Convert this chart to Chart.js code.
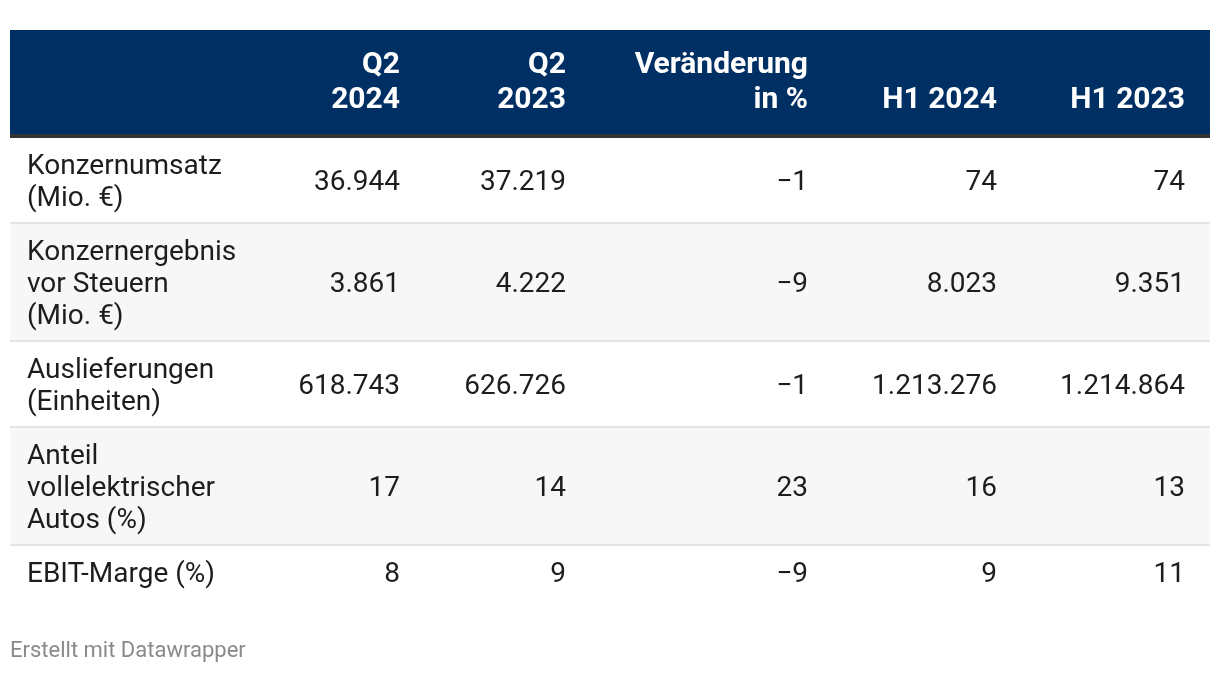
<!DOCTYPE html>
<html>
<head>
<meta charset="utf-8">
<script src="https://cdn.jsdelivr.net/npm/chart.js@4"></script>
<style>
  html, body { margin: 0; padding: 0; background: #fff; }
  #wrap { width: 1220px; height: 674px; position: relative; }
</style>
</head>
<body>
<div id="wrap"><canvas id="chart-table"></canvas></div>
<script>
// Table data (Q2 / H1 figures)
const rowLabels = [
    ['Konzernumsatz', '(Mio. €)'],
    ['Konzernergebnis', 'vor Steuern', '(Mio. €)'],
    ['Auslieferungen', '(Einheiten)'],
    ['Anteil', 'vollelektrischer', 'Autos (%)'],
    ['EBIT-Marge (%)']
];
const columnHeads = [['Q2', '2024'], ['Q2', '2023'], ['Veränderung', 'in %'], ['H1 2024'], ['H1 2023']];
const q2_2024 = [36944, 3861, 618743, 17, 8];
const q2_2023 = [37219, 4222, 626726, 14, 9];
const changePct = [-1, -9, -1, 23, -9];
const h1_2024 = [74, 8023, 1213276, 16, 9];
const h1_2023 = [74, 9351, 1214864, 13, 11];
const columnsData = [q2_2024, q2_2023, changePct, h1_2024, h1_2023];

// layout (pixel units of the hidden linear scales)
const colRight = [400, 566, 808, 997, 1185];
const tableLeft = 10, tableRight = 1210, labelLeft = 27;
const headTop = 30, headBottom = 134, headLine = 4;
const lineH = 32, rowPad = 20, sepH = 2;

const fmt = v => (v < 0 ? '\u2212' : '') + Math.abs(v).toLocaleString('de-DE');

const tablePlugin = {
    id: 'tableDraw',
    afterDraw(chart) {
        const c = chart.ctx, sx = chart.scales.x, sy = chart.scales.y;
        const X = v => sx.getPixelForValue(v), Y = v => sy.getPixelForValue(v);
        const W = X(tableRight) - X(tableLeft);
        c.save();
        // header band
        c.fillStyle = '#003063';
        c.fillRect(X(tableLeft), Y(headTop), W, Y(headBottom) - Y(headTop));
        c.fillStyle = '#333333';
        c.fillRect(X(tableLeft), Y(headBottom), W, headLine);
        c.fillStyle = '#ffffff';
        c.font = 'bold 30px Roboto';
        c.textAlign = 'right';
        c.textBaseline = 'alphabetic';
        columnHeads.forEach((lines, i) => {
            const lastBase = 108;
            lines.forEach((t, k) => {
                c.fillText(t, X(colRight[i]), Y(lastBase - (lines.length - 1 - k) * 35));
            });
        });
        // rows
        let top = headBottom + headLine;
        rowLabels.forEach((lines, r) => {
            const h = lines.length * lineH + rowPad;
            if (r % 2 === 1) {
                c.fillStyle = '#f7f7f7';
                c.fillRect(X(tableLeft), Y(top), W, h);
            }
            const mid = top + h / 2;
            c.fillStyle = '#1d1d1d';
            c.font = '28px Roboto';
            c.textAlign = 'left';
            lines.forEach((t, k) => {
                const cy = mid + (k - (lines.length - 1) / 2) * lineH;
                c.fillText(t, X(labelLeft), Y(cy + 10));
            });
            c.textAlign = 'right';
            columnsData.forEach((col, i) => {
                c.fillText(fmt(col[r]), X(colRight[i]), Y(mid + 10));
            });
            top += h;
            if (r < rowLabels.length - 1) {
                c.fillStyle = '#e5e5e5';
                c.fillRect(X(tableLeft), Y(top), W, sepH);
                top += sepH;
            }
        });
        // footer
        c.fillStyle = '#8a8a8a';
        c.font = '22px Roboto';
        c.textAlign = 'left';
        c.fillText('Erstellt mit Datawrapper', X(10), Y(657));
        c.restore();
    }
};

new Chart(document.getElementById('chart-table'), {
    type: 'scatter',
    data: { datasets: [] },
    options: {
        responsive: true,
        maintainAspectRatio: false,
        animation: false,
        layout: { padding: 0 },
        plugins: { legend: { display: false }, tooltip: { enabled: false } },
        scales: {
            x: { type: 'linear', min: 0, max: 1220, display: false },
            y: { type: 'linear', min: 0, max: 674, reverse: true, display: false }
        }
    },
    plugins: [tablePlugin]
});
</script>
</body>
</html>
